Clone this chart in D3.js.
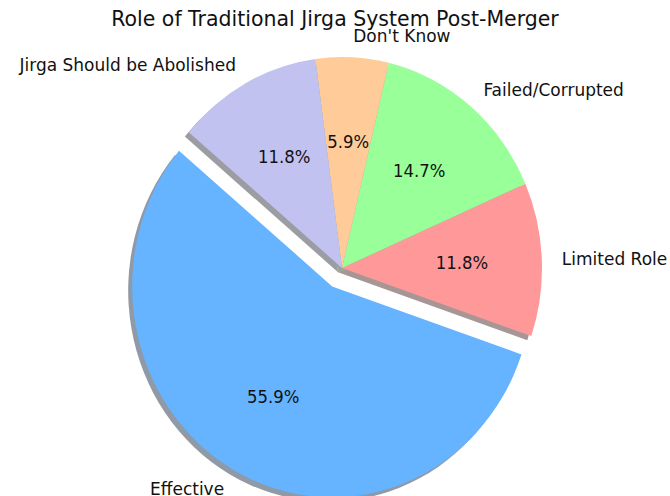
<!DOCTYPE html>
<html>
<head>
<meta charset="utf-8">
<script src="https://cdn.jsdelivr.net/npm/d3@7"></script>
<style>
  body { margin: 0; background: #fff; }
  text { font-family: "DejaVu Sans", sans-serif; fill: #111; }
</style>
</head>
<body>
<svg width="670" height="496"></svg>
<script>
// survey responses (share of 34 respondents)
var labels = ["Effective", "Limited Role", "Failed/Corrupted", "Don't Know", "Jirga Should be Abolished"];
var counts = [19, 4, 5, 2, 4];
var colors = ["#66b3ff", "#ff9999", "#99ff99", "#ffcc99", "#c2c2f0"];
var explode = [0.1, 0, 0, 0, 0];
var title = "Role of Traditional Jirga System Post-Merger";

var svg = d3.select("svg"),
    cx = 342, cy = 268, r = 200,
    stretch = 1.055;

var total = d3.sum(counts),
    fmt = function(v) { return d3.format(".1f")(v / total * 100) + "%"; };

// matplotlib startangle=140, counterclockwise
var pie = d3.pie()
    .sort(null)
    .startAngle(-50 * Math.PI / 180)
    .endAngle(-410 * Math.PI / 180);

var arc = d3.arc().innerRadius(0).outerRadius(r);

var data = pie(counts).map(function(d, i) {
  var mid = (d.startAngle + d.endAngle) / 2;
  d.i = i;
  d.ux = Math.sin(mid);
  d.uy = -Math.cos(mid);
  d.ox = explode[i] * r * d.ux;
  d.oy = explode[i] * r * d.uy;
  return d;
});

svg.append("text")
    .attr("x", 335)
    .attr("y", 17)
    .attr("text-anchor", "middle")
    .attr("dominant-baseline", "central")
    .attr("transform", "scale(1," + stretch + ")")
    .style("font-size", "20.5px")
    .text(title);

var g = svg.append("g")
    .attr("transform", "translate(" + cx + "," + cy + ") scale(1," + stretch + ")");

g.selectAll(".shadow")
  .data(data)
  .enter().append("path")
    .attr("class", "shadow")
    .attr("d", arc)
    .attr("transform", function(d) { return "translate(" + (d.ox - 0.02 * r) + "," + (d.oy + 0.02 * r) + ")"; })
    .attr("fill", function(d) {
      var c = d3.rgb(colors[d.i]);
      return d3.rgb(c.r * 0.3, c.g * 0.3, c.b * 0.3);
    })
    .attr("fill-opacity", 0.5);

g.selectAll(".slice")
  .data(data)
  .enter().append("path")
    .attr("class", "slice")
    .attr("d", arc)
    .attr("transform", function(d) { return "translate(" + d.ox + "," + d.oy + ")"; })
    .attr("fill", function(d) { return colors[d.i]; });

g.selectAll(".label")
  .data(data)
  .enter().append("text")
    .attr("class", "label")
    .attr("x", function(d) { return d.ox + 1.1 * r * d.ux; })
    .attr("y", function(d) { return d.oy + 1.1 * r * d.uy; })
    .attr("text-anchor", function(d) { return d.ux > 0 ? "start" : "end"; })
    .attr("dominant-baseline", "central")
    .style("font-size", "17px")
    .text(function(d) { return labels[d.i]; });

g.selectAll(".pct")
  .data(data)
  .enter().append("text")
    .attr("class", "pct")
    .attr("x", function(d) { return d.ox + 0.6 * r * d.ux; })
    .attr("y", function(d) { return d.oy + 0.6 * r * d.uy; })
    .attr("text-anchor", "middle")
    .attr("dominant-baseline", "central")
    .style("font-size", "16.5px")
    .text(function(d) { return fmt(d.value); });
</script>
</body>
</html>
